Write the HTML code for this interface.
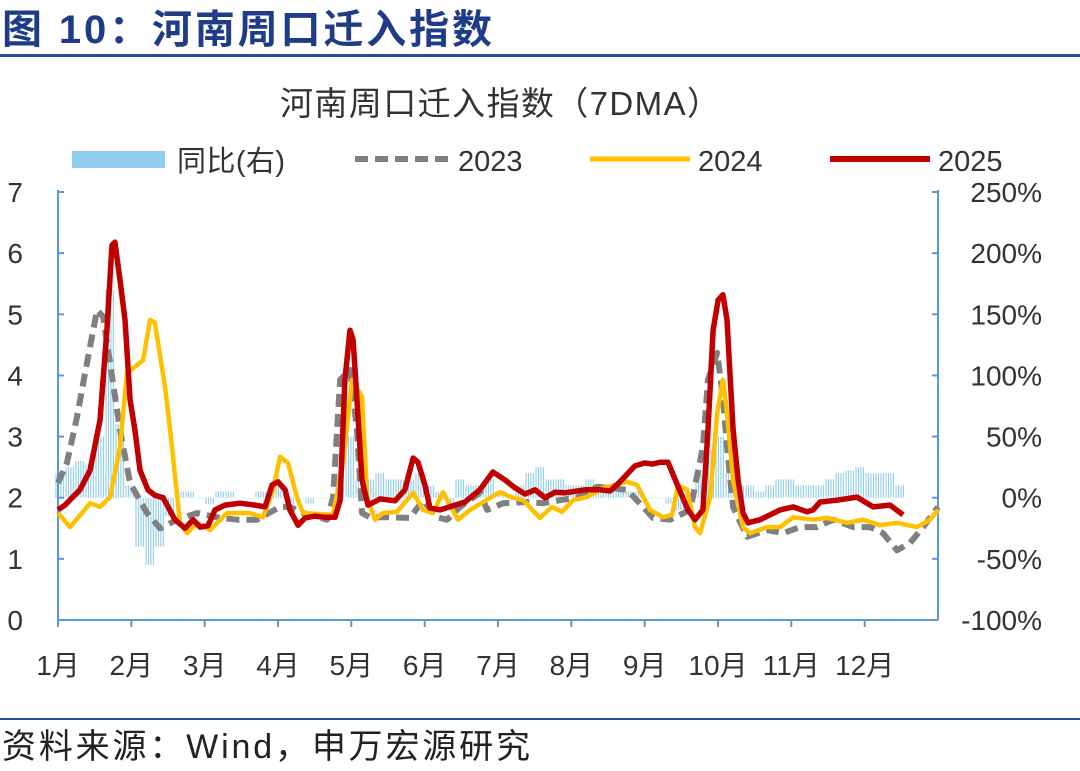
<!DOCTYPE html>
<html><head><meta charset="utf-8"><style>
body{margin:0;background:#fff;}
svg text{font-family:"Liberation Sans","Noto Sans CJK SC",sans-serif;}
</style></head><body>
<svg id="c" width="1080" height="766" xmlns="http://www.w3.org/2000/svg">
<text x="2" y="43" font-size="40" font-weight="bold" fill="#1f3c88" textLength="490">图 10：河南周口迁入指数</text>
<rect x="0" y="54" width="1080" height="3" fill="#1f4e9c"/>
<text x="500" y="115" font-size="33" fill="#333" text-anchor="middle" textLength="440">河南周口迁入指数（7DMA）</text>
<g>
<rect x="72" y="151" width="93" height="17" fill="#8fcdec"/>
<text x="177" y="171" font-size="29" fill="#333" textLength="108">同比(右)</text>
<line x1="355" y1="159" x2="450" y2="159" stroke="#808080" stroke-width="6" stroke-dasharray="13,7"/>
<text x="458" y="171" font-size="29" fill="#333">2023</text>
<line x1="590" y1="159" x2="690" y2="159" stroke="#ffc000" stroke-width="5"/>
<text x="698" y="171" font-size="29" fill="#333">2024</text>
<line x1="830" y1="159" x2="930" y2="159" stroke="#c00000" stroke-width="6"/>
<text x="938" y="171" font-size="29" fill="#333">2025</text>
</g>
<g id="plot"></g>
<rect x="0" y="718" width="1080" height="2" fill="#1f4e9c"/>
<text x="2" y="758" font-size="34" fill="#222" textLength="528">资料来源：Wind，申万宏源研究</text>
</svg>
<script>
const monthLabels=["1月","2月","3月","4月","5月","6月","7月","8月","9月","10月","11月","12月"];
const leftTicks=[0,1,2,3,4,5,6,7];
const rightTicks=[-100,-50,0,50,100,150,200,250];
const barStartDay=0.8, barStepDays=4.148;
const yoyValues=[20,25,30,28,50,170,60,10,-40,-55,-40,-15,5,5,0,-5,5,5,0,0,5,5,10,-5,0,-5,0,0,10,50,15,15,20,15,15,15,20,10,5,-5,15,10,10,15,5,0,10,20,25,15,15,10,10,15,10,5,5,5,5,0,0,-5,-10,0,20,40,50,20,10,10,5,10,15,15,10,10,10,15,20,22,25,20,20,20,10];
const days2023=[0,3.7,7.9,12,16.2,18.7,21.6,25.7,29.9,36.9,42.3,49.4,57.7,66,74.3,82.5,92.1,96.2,101.6,111.6,114.1,117,121.1,124,126.1,129.4,137.7,146,151.4,157.2,161.4,166.8,175,178,184.6,194.5,201.2,208.2,215.3,223.6,236,242.7,246.8,253.9,262.2,267.5,269.6,273.4,275.8,277.5,280,285.8,294.1,300.7,307.8,314.8,321.5,329.8,336.8,342.2,348,353.4,358.8,365];
const vals2023=[2.24,2.57,3.32,4.2,5.07,4.96,4.2,3.11,2.24,1.75,1.5,1.64,1.75,1.68,1.64,1.64,1.85,1.85,1.75,1.64,2.01,3.93,4.09,3.11,1.75,1.68,1.68,1.67,1.96,1.68,1.64,1.85,2.08,1.8,1.91,1.93,1.91,1.96,2,2.18,2.13,1.85,1.67,1.64,1.8,2.83,3.93,4.37,3.65,2.83,1.85,1.36,1.47,1.42,1.52,1.52,1.64,1.52,1.52,1.42,1.14,1.26,1.52,1.85];
const days2024=[0,5,13.3,17.4,21.6,25.7,28.6,35.3,38.2,40.2,44.4,46.5,50.6,53.5,57.7,63.1,70.1,79.6,85,89.2,92.1,95.4,99.1,101.6,114.1,118.2,122,126.1,128.2,131.5,134.8,140.6,147.3,151.4,155.6,159.7,165.9,170.9,176.3,183.3,188.7,192.9,199.9,204.9,209.1,213.6,219.4,226.1,236,240.2,245.6,251,254.7,257.2,260.9,264.2,266.3,270.5,273.4,275.8,277.5,280,284.1,287,294.1,299.5,304.9,313.2,319,327.3,333.9,341,348,356.3,361.7,365];
const vals2024=[1.75,1.52,1.91,1.85,2.01,2.83,4.04,4.25,4.91,4.86,3.81,3.11,1.59,1.42,1.59,1.47,1.75,1.75,1.68,2.13,2.67,2.57,2.01,1.75,1.72,2.57,3.93,3.65,2.01,1.64,1.75,1.77,2.08,1.8,1.75,2.09,1.64,1.8,1.93,2.09,2,1.96,1.67,1.85,1.77,1.96,2.01,2.16,2.26,2.21,1.8,1.68,1.72,2.21,2.13,1.52,1.42,2.01,3.39,3.93,3.39,2.29,1.52,1.42,1.52,1.52,1.68,1.64,1.67,1.59,1.64,1.55,1.59,1.52,1.64,1.8];
const days2025=[0,2.9,9.1,13.3,17.4,20.3,22.4,23.6,25.7,27.8,29.9,31.9,34,37.3,40.2,43.6,48.5,52.7,56,58.9,62.2,65.1,69.3,75.5,81.7,85.9,88.8,91.3,94.2,96.2,99.6,102.5,106.6,110.8,114.9,117,119,121.1,122.4,124,126.1,128.6,133.6,139.8,143.9,147.3,149.3,152.2,154.3,158.5,164.7,168.8,175,180.4,185.4,189.6,193.7,197.9,202,206.2,210.3,218.6,224.8,229,233.1,239.3,243.5,246.4,249.7,253,257.2,261.3,264.2,267.5,269.6,271.7,273.8,275.8,277.5,280,282.1,284.1,286.2,291.2,299.5,304.9,310.7,313.2,316.1,323.1,331.4,338.1,345.1,350.5];
const vals2025=[1.8,1.88,2.13,2.45,3.27,4.74,6.13,6.18,5.56,4.91,3.6,3.11,2.45,2.13,2.04,2,1.64,1.5,1.64,1.52,1.54,1.8,1.88,1.91,1.88,1.85,2.21,2.26,2.13,1.8,1.55,1.67,1.7,1.68,1.68,1.96,3.93,4.74,4.58,3.6,2.29,1.88,1.98,1.95,2.13,2.65,2.58,2.21,1.83,1.8,1.88,1.93,2.13,2.42,2.29,2.16,2.06,2.13,2,2.09,2.08,2.13,2.13,2.11,2.26,2.52,2.57,2.55,2.58,2.58,2.18,1.8,1.64,1.8,3.11,4.74,5.23,5.32,4.91,3.11,2.29,1.75,1.59,1.64,1.8,1.85,1.77,1.8,1.93,1.96,2.01,1.85,1.88,1.72];

const NS="http://www.w3.org/2000/svg";
const X0=58,X1=938,Y0=620,Y1=192;
const xDay=d=>X0+(X1-X0)*d/365;
const yL=v=>Y0-(Y0-Y1)*v/7;
const yR=p=>Y0-(Y0-Y1)*(p+100)/350;
const plot=document.getElementById('plot');
function mk(tag,attrs){const e=document.createElementNS(NS,tag);for(const k in attrs)e.setAttribute(k,attrs[k]);plot.appendChild(e);return e;}

const zeroY=yR(0);
yoyValues.forEach((v,i)=>{
  const x=xDay(barStartDay+i*barStepDays);
  const y=yR(v);
  for(let j=0;j<4;j++){
    const r=mk('rect',{x:x+j*2.45-4.5,y:Math.min(y,zeroY),width:1.1,height:Math.max(0.5,Math.abs(zeroY-y)),fill:'#8fcdec'});
    
    
  }
});
const la=mk('line',{x1:X0,y1:Y1-2,x2:X0,y2:Y0,stroke:'#5b9bd5','stroke-width':2});


const ra=mk('line',{x1:X1,y1:Y1-2,x2:X1,y2:Y0,stroke:'#5b9bd5','stroke-width':2});


const xa=mk('line',{x1:X0,y1:Y0,x2:X1,y2:Y0,stroke:'#5b9bd5','stroke-width':2});


leftTicks.forEach(v=>{
  const y=yL(v);
  mk('line',{x1:X0,y1:y,x2:X0+6,y2:y,stroke:'#5b9bd5','stroke-width':2});
  const t=mk('text',{x:23,y:y+10,'font-size':28,fill:'#333','text-anchor':'end'});t.textContent=v;
  
  
});
rightTicks.forEach(v=>{
  const y=yR(v);
  mk('line',{x1:X1-6,y1:y,x2:X1,y2:y,stroke:'#5b9bd5','stroke-width':2});
  const t=mk('text',{x:1042,y:y+10,'font-size':28,fill:'#333','text-anchor':'end'});t.textContent=v+'%';
  
  
});
monthLabels.forEach((m,i)=>{
  const x=X0+(X1-X0)*i/12;
  mk('line',{x1:x,y1:Y0,x2:x,y2:Y0+7,stroke:'#5b9bd5','stroke-width':2});
  const t=mk('text',{x:x,y:675,'font-size':28,fill:'#333','text-anchor':'middle'});t.textContent=m;
  
  
});
function line(days,vals,attrs,name){
  const d=days.map((dd,i)=>(i?'L':'M')+xDay(dd).toFixed(1)+','+yL(vals[i]).toFixed(1)).join('');
  const p=mk('path',Object.assign({d:d,fill:'none','stroke-linejoin':'round'},attrs));
  
  
}
line(days2023,vals2023,{stroke:'#808080','stroke-width':6,'stroke-dasharray':'13,7'},'line-2023');
line(days2024,vals2024,{stroke:'#ffc000','stroke-width':4.5},'line-2024');
line(days2025,vals2025,{stroke:'#c00000','stroke-width':5.5},'line-2025');
</script>
</body></html>
